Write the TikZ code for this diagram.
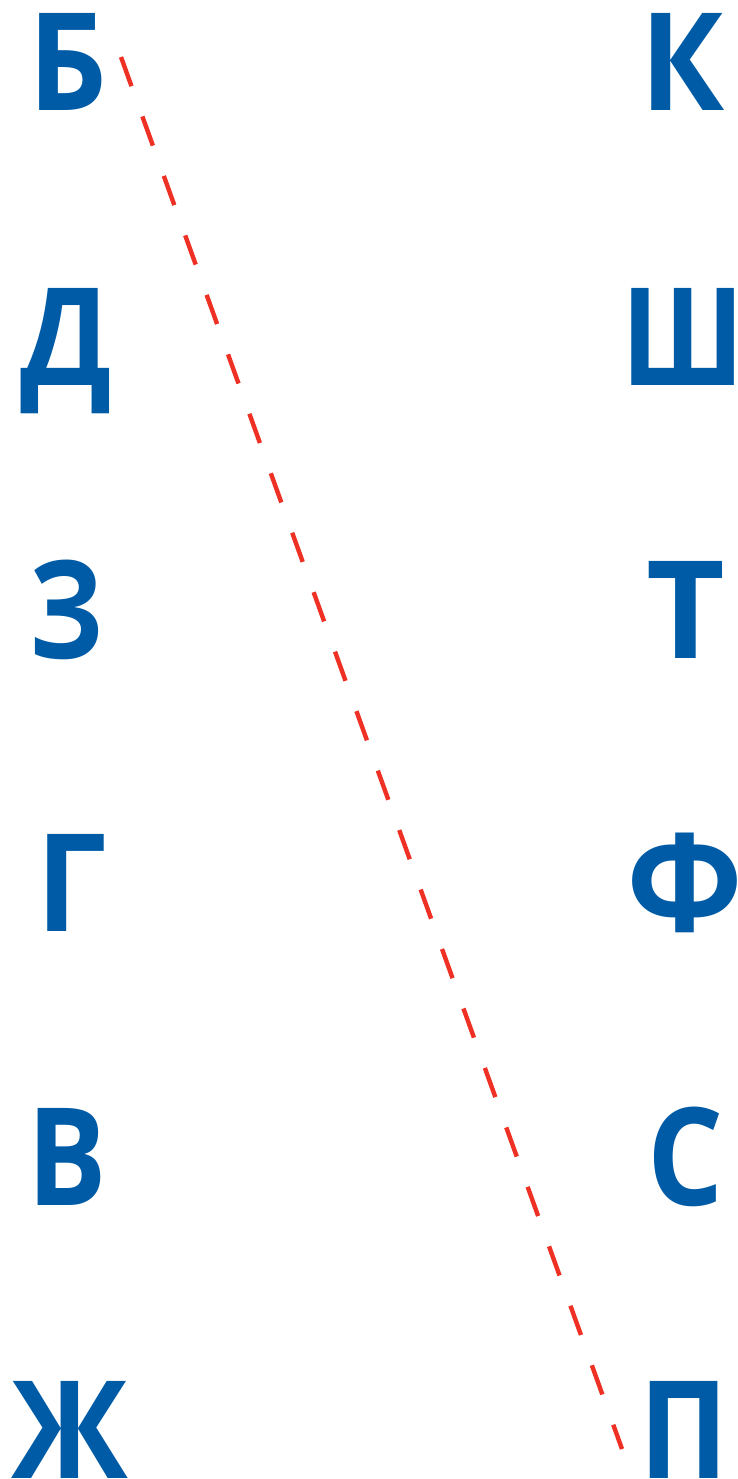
\documentclass[tikz,border=0pt]{standalone}
\usepackage{fontspec}
\newfontfamily\letterfont{Open Sans Bold}
\newcommand\hsq[2]{\scalebox{#1}[1]{#2}}
\definecolor{letterblue}{HTML}{005BA6}
\definecolor{linered}{HTML}{EE3124}
\begin{document}
\begin{tikzpicture}[x=1pt,y=-1pt,
  letter/.style={anchor=base,inner sep=0pt,text=letterblue,font=\fontsize{136}{136}\letterfont},
  link/.style={draw=linered,line width=4.4pt,dash pattern=on 31pt off 32.2pt}]
\useasboundingbox (0,0) rectangle (737,1479);
\node[letter] (b) at (67.6,111) {\hsq{0.91}{Б}};
\node[letter] (d) at (66,385) {\hsq{0.88}{Д}};
\node[letter] (z) at (67,658) {\hsq{0.84}{З}};
\node[letter] (g) at (71.7,931) {\hsq{0.92}{Г}};
\node[letter] (v) at (67,1205) {\hsq{0.87}{В}};
\node[letter] (zh) at (69.5,1478) {\hsq{0.91}{Ж}};
\node[letter] (k) at (683,111) {\hsq{0.92}{К}};
\node[letter] (sh) at (683.5,385) {\hsq{0.84}{Ш}};
\node[letter] (t) at (686,658) {Т};
\node[letter] (f) at (684.5,931) {Ф};
\node[letter] (s) at (685.6,1205) {\hsq{0.88}{С}};
\node[letter] (p) at (684,1478) {\hsq{0.88}{П}};
\coordinate (start) at (121,57);
\coordinate (end) at (622,1449);
\draw[link] (start) -- (end);
\end{tikzpicture}
\end{document}
